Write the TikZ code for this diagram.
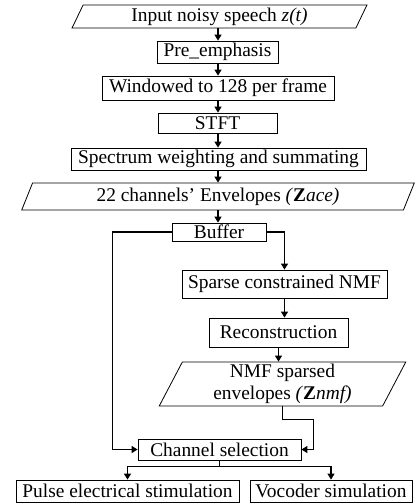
\documentclass[tikz,border=0pt]{standalone}
\usepackage{fontspec}
\setmainfont{Liberation Serif}
\usetikzlibrary{shapes.geometric,arrows.meta}
\begin{document}
\begin{tikzpicture}[x=1pt, y=-1pt]
        \tikzset{every node/.style={draw, line width=0.8pt, inner sep=0pt, align=center, font=\fontsize{19.4}{22}\selectfont},
            io/.style={trapezium, trapezium left angle=68, trapezium right angle=112, trapezium stretches=true},
            arr/.style={line width=1.2pt, -{Triangle[length=6pt, width=7pt]}},
            ln/.style={line width=1.2pt}}
        \useasboundingbox (0,0) rectangle (416,504);
        % main chain
        \node[io, minimum width=295, minimum height=23] (in) at (219.5,16.5) {Input noisy speech \textit{z(t)}};
        \node[minimum width=121, minimum height=22] (pre) at (217.5,52) {Pre\_emphasis};
        \node[minimum width=232, minimum height=24] (win) at (218,88) {Windowed to 128 per frame};
        \node[minimum width=119, minimum height=20] (stft) at (217.5,123) {STFT};
        \node[minimum width=295, minimum height=22] (spec) at (218.5,159) {Spectrum weighting and summating};
        \node[io, minimum width=394, minimum height=27] (ace) at (218,196.5) {22 channels' Envelopes \textit{(}\textbf{Z}\textit{ace)}};
        \node[minimum width=94, minimum height=18] (buf) at (219,232) {Buffer};
        % NMF branch
        \node[minimum width=205, minimum height=28] (nmf) at (284.5,284) {Sparse constrained NMF};
        \node[minimum width=139, minimum height=29] (rec) at (278.5,332.5) {Reconstruction};
        \node[io, minimum width=247, minimum height=44] (zn) at (282.5,384) {NMF sparsed\\envelopes \textit{(}\textbf{Z}\textit{nmf)}};
        % output
        \node[minimum width=163, minimum height=21] (sel) at (219.5,449.5) {Channel selection};
        \node[minimum width=223, minimum height=22] (pulse) at (127.5,491) {Pulse electrical stimulation};
        \node[minimum width=162, minimum height=22] (voc) at (331,491) {Vocoder simulation};
        \foreach \a/\b in {in/pre, pre/win, win/stft, stft/spec, spec/ace, ace/buf}
            \draw[arr] (\a.south -| 218,0) -- (\b.north -| 218,0);
        \draw[arr] (buf.east) -| (nmf.north);
        \draw[arr] (nmf.south) -- (nmf.south |- rec.north);
        \draw[arr] (rec.south) -- (rec.south |- zn.north);
        \draw[arr] (buf.west) -- ++(-59,0) |- (sel.west);
        \draw[arr] (zn.south) -- ++(0,13) -- ++(31,0) |- (sel.east);
        \draw[ln] (sel.south) -- ++(0,6) coordinate (split);
        \draw[arr] (split) -| (pulse.north);
        \draw[arr] (split) -| (voc.north);
    \end{tikzpicture}
\end{document}
